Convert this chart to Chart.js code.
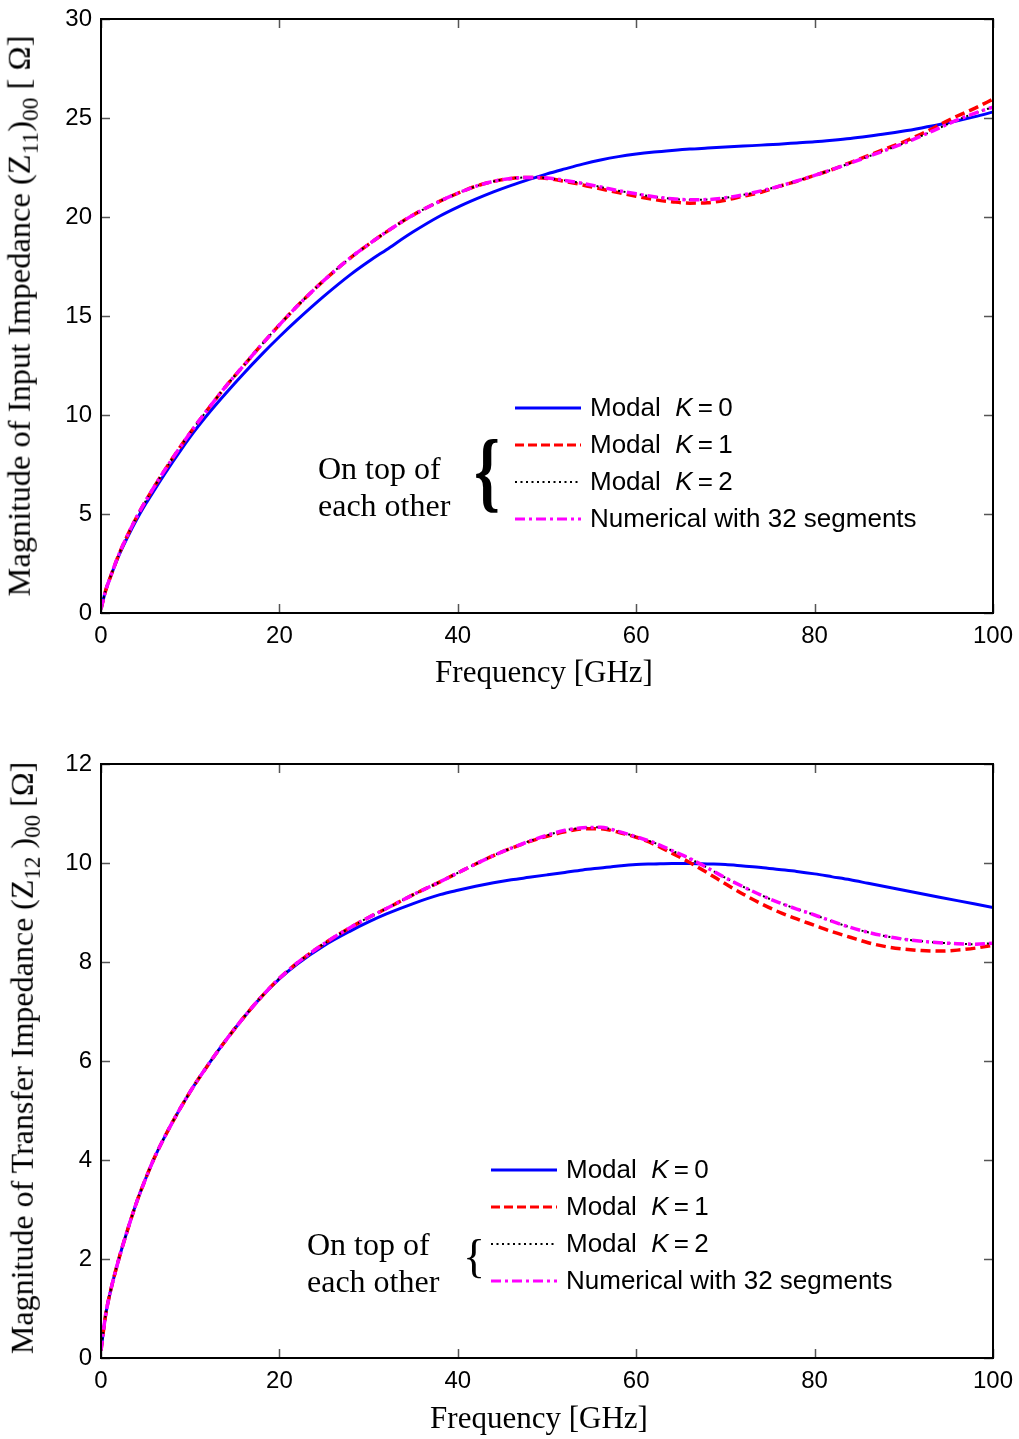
<!DOCTYPE html>
<html>
<head>
<meta charset="utf-8">
<script src="https://cdn.jsdelivr.net/npm/chart.js@4.4.1/dist/chart.umd.min.js"></script>
<style>
  body { margin: 0; background: #fff; width: 1019px; height: 1439px; position: relative; overflow: hidden; }
  .wrap { position: absolute; left: 0; width: 1019px; }
  .serif { font-family: "Liberation Serif", "Times New Roman", serif; color: #000; position: absolute; white-space: nowrap; }
  .ytitle { transform: translate(-50%, -50%) rotate(-90deg); }
  .ytitle sub { font-size: 0.72em; }
  .xtitle { font-size: 31px; transform: translate(-50%, -50%); }
  .note { font-size: 32px; line-height: 37px; }
  .brace { line-height: 1; }
  .legend { position: absolute; font-family: "Liberation Sans", Arial, sans-serif; font-size: 26px; color: #000; }
  .legend .row { height: 37px; display: flex; align-items: center; white-space: nowrap; }
  .legend svg { width: 66px; height: 10px; margin-right: 9px; flex: none; }
</style>
</head>
<body>

<div class="wrap" style="top:0; height:700px;"><canvas id="z11"></canvas></div>
<div class="wrap" style="top:745px; height:694px;"><canvas id="z12"></canvas></div>

<div class="serif ytitle" style="left:22px; top:316px; font-size:32.5px;">Magnitude of Input Impedance (Z<sub>11</sub>)<sub>00</sub> [ Ω]</div>
<div class="serif xtitle" style="left:544px; top:672px;">Frequency [GHz]</div>
<div class="serif ytitle" style="left:25px; top:1058px; font-size:32px;">Magnitude of Transfer Impedance (Z<sub>12</sub> )<sub>00</sub> [Ω]</div>
<div class="serif xtitle" style="left:539px; top:1418px;">Frequency [GHz]</div>

<div class="serif note" style="left:318px; top:450px;">On top of<br>each other</div>
<div class="serif brace" style="left:474px; top:428px; font-size:88px; font-weight:bold; transform:scaleX(0.75); transform-origin:left top;">{</div>
<div class="legend" style="left:515px; top:389px;">
  <div class="row"><svg><line x1="0" y1="5" x2="66" y2="5" stroke="#0000ff" stroke-width="3"/></svg>Modal&nbsp;&nbsp;<i>K</i>&thinsp;=&thinsp;0</div>
  <div class="row"><svg><line x1="0" y1="5" x2="66" y2="5" stroke="#ff0000" stroke-width="3" stroke-dasharray="9 4"/></svg>Modal&nbsp;&nbsp;<i>K</i>&thinsp;=&thinsp;1</div>
  <div class="row"><svg><line x1="0" y1="5" x2="66" y2="5" stroke="#000" stroke-width="2" stroke-dasharray="2 3.5"/></svg>Modal&nbsp;&nbsp;<i>K</i>&thinsp;=&thinsp;2</div>
  <div class="row"><svg><line x1="0" y1="5" x2="66" y2="5" stroke="#ff00ff" stroke-width="3" stroke-dasharray="10 4 3 4"/></svg>Numerical with 32 segments</div>
</div>

<div class="serif note" style="left:307px; top:1226px;">On top of<br>each other</div>
<div class="serif brace" style="left:463px; top:1234px; font-size:46px;">{</div>
<div class="legend" style="left:491px; top:1151px;">
  <div class="row"><svg><line x1="0" y1="5" x2="66" y2="5" stroke="#0000ff" stroke-width="3"/></svg>Modal&nbsp;&nbsp;<i>K</i>&thinsp;=&thinsp;0</div>
  <div class="row"><svg><line x1="0" y1="5" x2="66" y2="5" stroke="#ff0000" stroke-width="3" stroke-dasharray="9 4"/></svg>Modal&nbsp;&nbsp;<i>K</i>&thinsp;=&thinsp;1</div>
  <div class="row"><svg><line x1="0" y1="5" x2="66" y2="5" stroke="#000" stroke-width="2" stroke-dasharray="2 3.5"/></svg>Modal&nbsp;&nbsp;<i>K</i>&thinsp;=&thinsp;2</div>
  <div class="row"><svg><line x1="0" y1="5" x2="66" y2="5" stroke="#ff00ff" stroke-width="3" stroke-dasharray="10 4 3 4"/></svg>Numerical with 32 segments</div>
</div>

<script>
// ---------------- data ----------------

// frequency samples [GHz]
var freqGHz = [0, 0.5, 1, 2, 3, 4, 5, 6, 8, 10, 12, 14, 16, 18, 20, 22, 25, 28, 30, 32, 35, 38,
  40, 42, 44, 46, 48, 50, 52, 54, 56, 58, 60, 62, 64, 66, 68, 70, 72, 74, 76, 78,
  80, 82, 84, 86, 88, 90, 92, 94, 96, 98, 100];

// |(Z11)00| [Ohm]
var z11K0 = [0.2, 1.1, 1.75, 2.9, 3.85, 4.72, 5.5, 6.22, 7.6, 8.9, 10.05, 11.1, 12.1, 13.05, 13.95, 14.8, 16.0, 17.1, 17.75, 18.35, 19.25, 20.05,
  20.5, 20.9, 21.27, 21.6, 21.9, 22.18, 22.43, 22.67, 22.88, 23.05, 23.18, 23.28, 23.36, 23.43, 23.48, 23.53, 23.58, 23.63, 23.68, 23.74,
  23.8, 23.88, 23.97, 24.08, 24.2, 24.34, 24.5, 24.67, 24.86, 25.07, 25.3];
var z11K1 = [0.2, 1.1, 1.75, 2.95, 3.95, 4.85, 5.65, 6.4, 7.8, 9.1, 10.3, 11.45, 12.5, 13.55, 14.55, 15.5, 16.8, 17.95, 18.62, 19.25, 20.1, 20.8,
  21.2, 21.55, 21.8, 21.95, 22.0, 21.95, 21.8, 21.62, 21.42, 21.23, 21.05, 20.88, 20.77, 20.7, 20.72, 20.85, 21.05, 21.25, 21.55, 21.8,
  22.1, 22.4, 22.75, 23.1, 23.45, 23.8, 24.2, 24.65, 25.1, 25.5, 25.95];
var z11K2 = [0.2, 1.1, 1.75, 2.95, 3.95, 4.85, 5.65, 6.4, 7.8, 9.1, 10.3, 11.45, 12.5, 13.55, 14.55, 15.5, 16.8, 17.95, 18.62, 19.25, 20.1, 20.8,
  21.2, 21.55, 21.8, 21.95, 22.0, 21.97, 21.85, 21.7, 21.52, 21.33, 21.17, 21.02, 20.92, 20.87, 20.88, 20.97, 21.12, 21.32, 21.55, 21.82,
  22.1, 22.4, 22.72, 23.05, 23.38, 23.72, 24.1, 24.5, 24.9, 25.25, 25.55];
var z11Num = [0.2, 1.1, 1.75, 2.95, 3.95, 4.85, 5.65, 6.4, 7.8, 9.1, 10.3, 11.45, 12.5, 13.55, 14.55, 15.5, 16.8, 17.95, 18.62, 19.25, 20.1, 20.8,
  21.2, 21.55, 21.8, 21.95, 22.0, 21.97, 21.85, 21.7, 21.52, 21.33, 21.17, 21.02, 20.92, 20.87, 20.88, 20.97, 21.12, 21.32, 21.55, 21.82,
  22.1, 22.4, 22.72, 23.05, 23.38, 23.72, 24.1, 24.5, 24.9, 25.25, 25.55];

// |(Z12)00| [Ohm]
var z12K0 = [0.15, 0.85, 1.3, 2.0, 2.6, 3.15, 3.62, 4.05, 4.76, 5.38, 5.92, 6.42, 6.88, 7.3, 7.66, 7.96, 8.33, 8.63, 8.81, 8.97, 9.18, 9.36,
  9.45, 9.53, 9.6, 9.66, 9.71, 9.76, 9.81, 9.86, 9.9, 9.94, 9.97, 9.98, 9.99, 9.99, 9.98, 9.97, 9.94, 9.91, 9.87, 9.83,
  9.78, 9.72, 9.66, 9.59, 9.52, 9.45, 9.38, 9.31, 9.24, 9.17, 9.1];
var z12K1 = [0.15, 0.85, 1.3, 2.0, 2.6, 3.15, 3.62, 4.05, 4.76, 5.38, 5.92, 6.42, 6.88, 7.3, 7.67, 7.98, 8.37, 8.7, 8.9, 9.08, 9.36, 9.62,
  9.8, 9.98, 10.15, 10.3, 10.43, 10.54, 10.63, 10.69, 10.69, 10.62, 10.52, 10.38, 10.2, 10.01, 9.8, 9.58, 9.37, 9.18, 9.01, 8.87,
  8.74, 8.61, 8.5, 8.39, 8.31, 8.26, 8.23, 8.22, 8.24, 8.28, 8.34];
var z12K2 = [0.15, 0.85, 1.3, 2.0, 2.6, 3.15, 3.62, 4.05, 4.76, 5.38, 5.92, 6.42, 6.88, 7.3, 7.67, 7.98, 8.37, 8.7, 8.9, 9.08, 9.36, 9.62,
  9.8, 9.98, 10.15, 10.3, 10.44, 10.56, 10.66, 10.71, 10.72, 10.64, 10.53, 10.41, 10.25, 10.09, 9.9, 9.7, 9.52, 9.35, 9.2, 9.07,
  8.95, 8.82, 8.7, 8.6, 8.52, 8.46, 8.42, 8.39, 8.37, 8.36, 8.38];
var z12Num = [0.15, 0.85, 1.3, 2.0, 2.6, 3.15, 3.62, 4.05, 4.76, 5.38, 5.92, 6.42, 6.88, 7.3, 7.67, 7.98, 8.37, 8.7, 8.9, 9.08, 9.36, 9.62,
  9.8, 9.98, 10.15, 10.3, 10.44, 10.56, 10.66, 10.71, 10.72, 10.64, 10.53, 10.41, 10.25, 10.09, 9.9, 9.7, 9.52, 9.35, 9.2, 9.07,
  8.95, 8.82, 8.7, 8.6, 8.52, 8.46, 8.42, 8.39, 8.37, 8.36, 8.38];

var xTicks = [0, 20, 40, 60, 80, 100];
var z11Ticks = [0, 5, 10, 15, 20, 25, 30];
var z12Ticks = [0, 2, 4, 6, 8, 10, 12];


// ---------------- helpers ----------------

function pts(ys) {
  return freqGHz.map(function (f, i) { return { x: f, y: ys[i] }; });
}

// matlab style box with inward ticks on all four sides
var boxTicks = {
  id: 'boxTicks',
  afterDatasetsDraw: function (chart) {
    var ctx = chart.ctx, a = chart.chartArea, sx = chart.scales.x, sy = chart.scales.y;
    var len = 9;
    ctx.save();
    ctx.strokeStyle = '#555';
    ctx.lineWidth = 1.5;
    ctx.beginPath();
    sx.ticks.forEach(function (t) {
      var px = Math.round(sx.getPixelForValue(t.value)) + 0.5;
      ctx.moveTo(px, a.bottom); ctx.lineTo(px, a.bottom - len);
      ctx.moveTo(px, a.top); ctx.lineTo(px, a.top + len);
    });
    sy.ticks.forEach(function (t) {
      var py = Math.round(sy.getPixelForValue(t.value)) + 0.5;
      ctx.moveTo(a.left, py); ctx.lineTo(a.left + len, py);
      ctx.moveTo(a.right, py); ctx.lineTo(a.right - len, py);
    });
    ctx.stroke();
    ctx.strokeStyle = '#000';
    ctx.lineWidth = 2;
    ctx.strokeRect(a.left, a.top, a.right - a.left, a.bottom - a.top);
    ctx.restore();
  }
};

function makeChart(id, series, yTicks, xAxisHeight) {
  var tickFont = { family: '"Liberation Sans", Arial, sans-serif', size: 24 };
  return new Chart(document.getElementById(id), {
    type: 'line',
    data: {
      datasets: [
        { label: 'Modal K = 0', data: pts(series[0]), borderColor: '#0000ff', borderWidth: 3, order: 3 },
        { label: 'Modal K = 1', data: pts(series[1]), borderColor: '#ff0000', borderWidth: 3.5, borderDash: [10, 5], order: 2 },
        { label: 'Modal K = 2', data: pts(series[2]), borderColor: '#000000', borderWidth: 2, borderDash: [2, 3.5], order: 1 },
        { label: 'Numerical with 32 segments', data: pts(series[3]), borderColor: '#ff00ff', borderWidth: 3.5, borderDash: [10, 4, 3, 4], order: 0 }
      ]
    },
    options: {
      responsive: true,
      maintainAspectRatio: false,
      animation: false,
      layout: { padding: { top: 19, right: 26, bottom: 0, left: 0 } },
      elements: {
        point: { radius: 0 },
        line: { cubicInterpolationMode: 'monotone', fill: false }
      },
      plugins: { legend: { display: false }, tooltip: { enabled: false } },
      scales: {
        x: {
          type: 'linear',
          min: xTicks[0], max: xTicks[xTicks.length - 1],
          ticks: { stepSize: xTicks[1] - xTicks[0], color: '#000', font: tickFont, padding: 9, maxRotation: 0 },
          grid: { display: false, drawTicks: false },
          border: { display: false },
          afterFit: function (s) { s.height = xAxisHeight; s.paddingLeft = 0; s.paddingRight = 0; }
        },
        y: {
          type: 'linear',
          min: yTicks[0], max: yTicks[yTicks.length - 1],
          ticks: { stepSize: yTicks[1] - yTicks[0], color: '#000', font: tickFont, padding: 9 },
          grid: { display: false, drawTicks: false },
          border: { display: false },
          afterFit: function (s) { s.width = 101; s.paddingTop = 0; s.paddingBottom = 0; }
        }
      }
    },
    plugins: [boxTicks]
  });
}

makeChart('z11', [z11K0, z11K1, z11K2, z11Num], z11Ticks, 87);
makeChart('z12', [z12K0, z12K1, z12K2, z12Num], z12Ticks, 81);
</script>
</body>
</html>
